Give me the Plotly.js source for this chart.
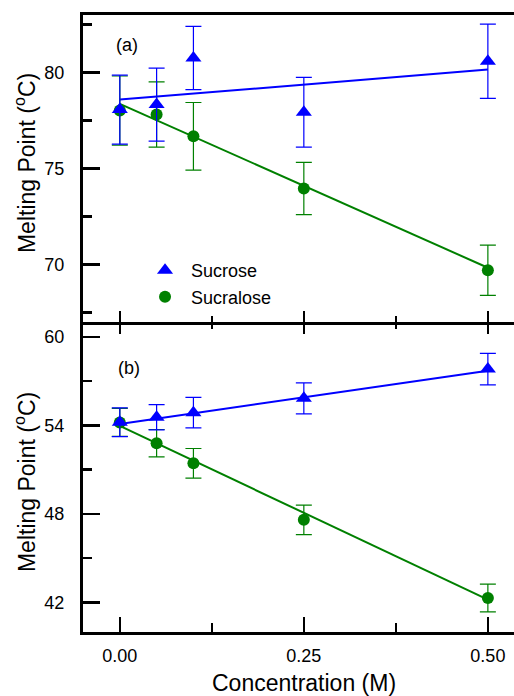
<!DOCTYPE html>
<html>
<head>
<meta charset="utf-8">
<script src="https://cdn.plot.ly/plotly-3.0.1.min.js"></script>
<style>
html,body{margin:0;padding:0;overflow:hidden;background:#fff;}
#chart{width:514px;height:696px;}
</style>
</head>
<body>
<div id="chart"></div>
<script>
// Data
const conc = [0, 0.05, 0.1, 0.25, 0.5];
const sucroseA = [78.07, 78.33, 80.76, 77.93, 80.59];
const sucroseAErr = [1.80, 1.90, 1.65, 1.82, 1.93];
const sucraloseA = [78.02, 77.81, 76.68, 73.96, 69.70];
const sucraloseAErr = [1.80, 1.70, 1.76, 1.36, 1.31];
const sucroseB = [54.21, 54.55, 54.86, 55.83, 57.81];
const sucroseBErr = [0.97, 0.86, 1.03, 1.05, 1.07];
const sucraloseB = [54.20, 52.79, 51.43, 47.60, 42.30];
const sucraloseBErr = [0.95, 0.93, 1.00, 1.00, 0.94];
const fitX = [0, 0.5];
const sucroseFitA = [78.59, 80.16];
const sucraloseFitA = [78.37, 69.83];
const sucroseFitB = [54.09, 57.70];
const sucraloseFitB = [53.96, 42.19];
const xTickVals = [0, 0.25, 0.5];
const xTickText = ['0.00', '0.25', '0.50'];
const yTickValsA = [70, 75, 80];
const yTickValsB = [42, 48, 54, 60];

const BLUE = '#0000FF', GREEN = '#008000';
const FONT = 'Liberation Sans, Arial, sans-serif';

function errTrace(x, y, err, color, symbol, size, xa, ya, name, show, rank) {
  return {
    x: x, y: y, type: 'scatter', mode: 'markers', name: name,
    xaxis: xa, yaxis: ya, showlegend: show, legendrank: rank,
    marker: {color: color, symbol: symbol, size: size, line: {width: 0}},
    error_y: {type: 'data', array: err, visible: true, color: color, thickness: 1.2, width: 8}
  };
}
function fitTrace(x, y, color, xa, ya) {
  return {x: x, y: y, type: 'scatter', mode: 'lines', xaxis: xa, yaxis: ya,
    showlegend: false, hoverinfo: 'skip', line: {color: color, width: 2}};
}

const data = [
  fitTrace(fitX, sucraloseFitA, GREEN, 'x2', 'y2'),
  fitTrace(fitX, sucroseFitA, BLUE, 'x2', 'y2'),
  errTrace(conc, sucraloseA, sucraloseAErr, GREEN, 'circle', 12, 'x2', 'y2', 'Sucralose', true, 2),
  errTrace(conc, sucroseA, sucroseAErr, BLUE, 'triangle-up', 14, 'x2', 'y2', 'Sucrose', true, 1),
  fitTrace(fitX, sucraloseFitB, GREEN, 'x', 'y'),
  fitTrace(fitX, sucroseFitB, BLUE, 'x', 'y'),
  errTrace(conc, sucraloseB, sucraloseBErr, GREEN, 'circle', 12, 'x', 'y', 'Sucralose', false, 2),
  errTrace(conc, sucroseB, sucroseBErr, BLUE, 'triangle-up', 14, 'x', 'y', 'Sucrose', false, 1),
  {x: [], y: [], type: 'scatter', mode: 'markers', xaxis: 'x3', yaxis: 'y2', showlegend: false}
];

const xRange = [-0.05, 0.5355];
const baseX = {
  range: xRange, tickvals: xTickVals, ticktext: xTickText,
  showgrid: false, zeroline: false, showline: true, linecolor: '#000', linewidth: 3,
  tickcolor: '#000', tickwidth: 2.5, ticklabelstandoff: 5,
  tickfont: {family: FONT, size: 18, color: '#000'}
};
const baseY = {
  showgrid: false, zeroline: false, showline: true, linecolor: '#000', linewidth: 3,
  ticks: 'inside', ticklen: 17, tickwidth: 2.5, tickcolor: '#000', mirror: false,
  ticklabelstandoff: 12,
  tickfont: {family: FONT, size: 18, color: '#000'}
};
const split = 0.5024;

const layout = {
  width: 514, height: 696,
  margin: {l: 83, r: 0, t: 15, b: 64},
  paper_bgcolor: '#fff', plot_bgcolor: '#fff',
  font: {family: FONT, color: '#000'},
  showlegend: true,
  legend: {x: 0.13, xanchor: 'left', y: 0.6157, yanchor: 'top', itemwidth: 42,
    bgcolor: 'rgba(0,0,0,0)', font: {family: FONT, size: 18, color: '#000'}},
  xaxis: Object.assign({}, baseX, {
    anchor: 'y', domain: [0, 1], ticks: 'inside', ticklen: 15, mirror: false,
    minor: {ticks: 'inside', ticklen: 9, dtick: 0.125, tick0: 0, tickwidth: 2.5, tickcolor: '#000'}
  }),
  xaxis2: Object.assign({}, baseX, {
    anchor: 'y2', domain: [0, 1], ticks: 'inside', ticklen: 11, mirror: true, showticklabels: false,
    minor: {ticks: 'inside', ticklen: 6, dtick: 0.125, tick0: 0, tickwidth: 2.5, tickcolor: '#000'}
  }),
  xaxis3: Object.assign({}, baseX, {
    anchor: 'y2', overlaying: 'x2', side: 'bottom', showline: false, ticks: 'outside', ticklen: 11,
    showticklabels: false,
    minor: {ticks: 'outside', ticklen: 6, dtick: 0.125, tick0: 0, tickwidth: 2.5, tickcolor: '#000'}
  }),
  yaxis: Object.assign({}, baseY, {
    anchor: 'x', domain: [0, split], range: [40, 61], tickvals: yTickValsB,
    minor: {ticks: 'inside', ticklen: 9, dtick: 3, tick0: 0, tickwidth: 2.5, tickcolor: '#000'}
  }),
  yaxis2: Object.assign({}, baseY, {
    anchor: 'x2', domain: [split, 1], range: [67, 83], tickvals: yTickValsA,
    minor: {ticks: 'inside', ticklen: 9, dtick: 2.5, tick0: 0, tickwidth: 2.5, tickcolor: '#000'}
  }),
  annotations: [
    {text: '(a)', xref: 'paper', yref: 'paper', x: 0.072, y: 0.9514, xanchor: 'left', yanchor: 'middle',
      showarrow: false, font: {family: FONT, size: 18, color: '#000'}},
    {text: '(b)', xref: 'paper', yref: 'paper', x: 0.0766, y: 0.4279, xanchor: 'left', yanchor: 'middle',
      showarrow: false, font: {family: FONT, size: 18, color: '#000'}},
    {text: 'Melting Point (<sup>o</sup>C)', xref: 'paper', yref: 'paper', x: -0.1346, y: 0.760,
      xanchor: 'center', yanchor: 'middle', textangle: -90, showarrow: false,
      font: {family: FONT, size: 23, color: '#000'}},
    {text: 'Melting Point (<sup>o</sup>C)', xref: 'paper', yref: 'paper', x: -0.1346, y: 0.243,
      xanchor: 'center', yanchor: 'middle', textangle: -90, showarrow: false,
      font: {family: FONT, size: 23, color: '#000'}},
    {text: 'Concentration (M)', xref: 'paper', yref: 'paper', x: 0.5133, y: -0.0827,
      xanchor: 'center', yanchor: 'middle', showarrow: false,
      font: {family: FONT, size: 23, color: '#000'}}
  ]
};

Plotly.newPlot('chart', data, layout, {displayModeBar: false, staticPlot: true});
</script>
</body>
</html>
